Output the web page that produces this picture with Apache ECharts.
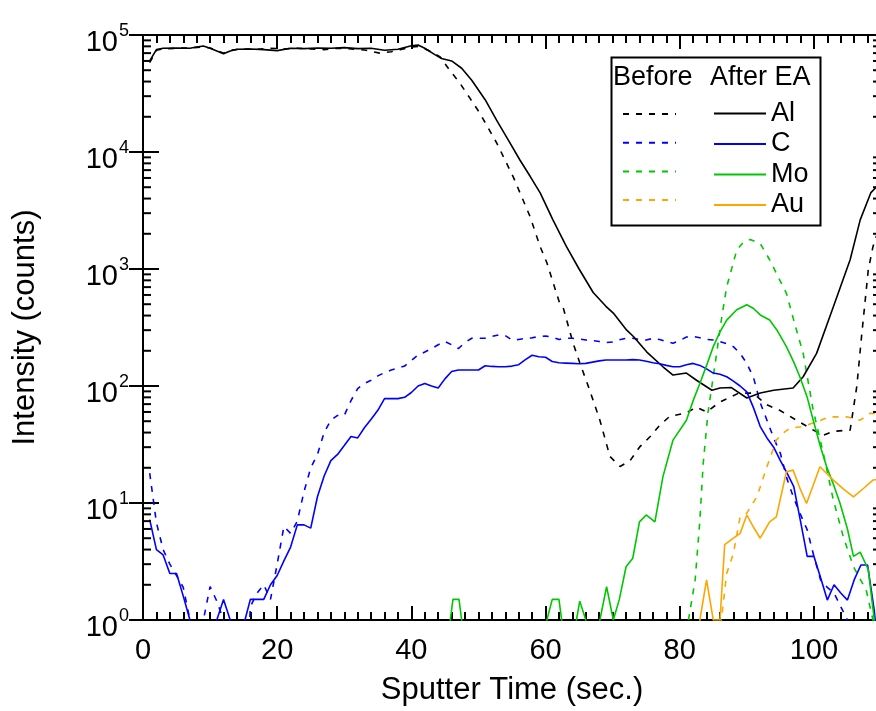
<!DOCTYPE html>
<html>
<head>
<meta charset="utf-8">
<script src="https://cdn.jsdelivr.net/npm/echarts@6/dist/echarts.min.js"></script>
<style>html,body{margin:0;padding:0;background:#fff}#c{width:876px;height:711px}</style>
</head>
<body>
<div id="c"></div>
<script>
// ---- data: [sputter time (s), intensity (counts)] ; 0.3 = zero counts ----
const alAfter = [[1,60000],[2,75000],[3,77000],[5,77500],[7,77000],[8,79000],[9,80500],[10,77000],[11,73000],[12,69000],[13,73000],[14,75500],[16,76000],[18,75000],[20,73500],[22,77000],[24,76500],[26,77500],[28,77000],[30,78000],[32,76500],[34,77000],[36,74000],[38,75500],[40,81000],[41,82000],[42,77000],[43.5,68000],[44.5,63000],[46,60000],[47.5,52000],[49,41000],[51,28000],[52.7,18700],[54.5,12500],[56.2,8500],[57.7,6200],[59.2,4470],[61.1,2630],[63.1,1560],[65,1000],[67.1,630],[69,480],[70.1,420],[72.1,300],[73.1,265],[75.1,195],[77.5,146],[79,124],[81,129],[82.5,112],[84.8,92],[86,96],[87.7,97],[90,79],[92,87],[94,92],[96.9,96],[98.4,120],[100.4,190],[102.9,475],[105.4,1200],[106.9,2630],[108.5,4500],[110,5500]];
const alBefore = [[1,58000],[2,74000],[3,76000],[5,77000],[7,77500],[9,79000],[10,77500],[11,74000],[12,70000],[13,74000],[15,76000],[17,75500],[19,77000],[21,76000],[23,77000],[25,76000],[27,75000],[29,77000],[31,76000],[33,74500],[35.3,70000],[37,72000],[38.3,75000],[40,79000],[41,80000],[42.5,74000],[44.3,65000],[45.7,50000],[47.2,39000],[48.7,29000],[50.2,21500],[52.7,12000],[55.2,6100],[57.7,2800],[59.2,1550],[60.2,1130],[62.1,510],[62.6,475],[64.1,233],[65.1,158],[66.5,95],[68.1,51],[69.6,25],[71.1,20.5],[72.6,23],[74,30],[75.6,37],[77,46],[78.5,55],[81,59],[82.5,66],[84,60],[86,73],[88.8,87],[90.9,87],[93,69],[94.9,62],[97.4,51],[99.9,42],[101.4,38],[102.9,41],[105.4,42],[106.4,100],[107.1,265],[108.1,980],[108.8,1550],[110,2500]];
const cAfter = [[1,7.2],[2,4.0],[3,3.6],[4,2.5],[5,2.5],[6,1.6],[7,1],[8,0.3],[10,0.3],[11,1],[12,1.5],[13,1],[14,0.3],[14.6,0.3],[15.2,1],[16,1.5],[17,1.5],[18,1.5],[19,2],[20,2.4],[21,3.2],[22,4.2],[23,6.5],[24,6.5],[25,6.1],[26,11.3],[27,17],[28,23],[29,26],[30,31],[31,37],[32,36],[33,44],[34,52],[35,62],[36,78],[37,78],[38,78],[39,80],[40,88],[41,100],[42,105],[43,100],[44,96],[45,115],[46,133],[47,137],[48,137],[49,137],[50,137],[51,149],[52,147],[53,146],[54,146],[55,148],[56,152],[57,168],[58,183],[59,178],[60,176],[61,162],[62,158],[63,157],[64,156],[65,155],[66,156],[67,160],[68,164],[69,167],[70,167],[71,167],[72,167],[73,168],[74,167],[75,163],[76,158],[77,155],[78,150],[79,146],[80,146],[81,152],[82,156],[83,150],[84,140],[85,129],[86,126],[87,120],[88,110],[89,100],[90,89],[91,65],[92,45],[93,36],[94,30],[95,23],[96,18],[97,13.8],[98,7],[99,3.5],[100,3.5],[101,2.3],[102,1.48],[103,2.0],[104,1.7],[105,1.48],[106,2.2],[107,2.95],[108,2.95],[109,1.2],[110,0.3]];
const cBefore = [[1,18],[2,6.8],[3,4],[4,3.0],[5,2.4],[6,1.9],[7,1],[8,0.3],[8.7,0.3],[9,1],[10,1.93],[11,1.45],[12,1],[13,0.3],[15.5,0.3],[16,1.3],[17,1.7],[18,2],[19,1.5],[20,3.0],[21,6.3],[22,5.5],[23,7],[24,12.5],[25,20],[26,26],[27,40],[28,51],[29,56],[30,56],[31,75],[32,95],[33,105],[34,112],[35,122],[36,130],[37,137],[38,142],[39,148],[40,165],[41,184],[42,195],[43,209],[44,225],[45,240],[46,225],[47,209],[48,235],[49,256],[50,256],[51,256],[52,265],[53,273],[54,270],[55,247],[56,250],[57,256],[58,258],[59,265],[60,267],[61,262],[62,250],[63,256],[64,256],[65,252],[66,247],[67,245],[68,240],[69,235],[70,238],[71,248],[72,256],[73,256],[74,250],[75,247],[76,255],[77,250],[78,240],[79,232],[80,245],[81,262],[82,265],[83,258],[84,250],[85,247],[86,240],[87,230],[88,217],[89,190],[90,156],[91,118],[92,72],[93,51],[94,36],[95,26.6],[96,16],[97,11],[98,8],[99,5.9],[100,3.5],[101,2.2],[102,1.9],[103,1.7],[104,1.3],[105,1],[106,0.3],[110,0.3]];
const moAfter = [[1,0.3],[45,0.3],[45.8,1],[46.2,1.5],[47.1,1.5],[47.5,1],[48,0.3],[60,0.3],[60.2,1],[61,1.5],[62,1.5],[62.4,1],[63,0.3],[64.3,0.3],[64.6,1],[65.1,1.45],[66,1],[66.5,0.3],[67.8,0.3],[68.1,1],[69.1,1.93],[70.1,1],[71,1.5],[72,2.85],[73,3.37],[74,6.9],[75,7.9],[76.3,6.9],[77.5,16.8],[79,34.5],[81,51],[82,75],[83,105],[84,150],[85,217],[86,290],[87,366],[88.5,448],[90,495],[91,460],[92,405],[93.4,366],[94.5,300],[95.9,217],[97,160],[97.9,120],[99,80],[99.9,51],[101,30],[101.9,20.4],[103,14],[103.9,9.9],[105,6],[105.9,3.5],[106.9,3.8],[108.1,2.7],[109,1],[109.5,0.3]];
const moBefore = [[1,0.3],[81,0.3],[81.3,1],[82.3,2.2],[83,7.1],[83.5,21.8],[84.2,58.5],[85.5,190],[86.3,400],[87,705],[88.5,1450],[89.5,1700],[90.5,1790],[92,1650],[93.4,1200],[94.7,850],[95.9,620],[97.2,330],[98.4,190],[99.9,62],[101.4,26.6],[102.9,10.6],[104.4,5.1],[105.9,2.85],[107.8,1.8],[108.8,1],[109.5,0.3]];
const auAfter = [[1,0.3],[82.5,0.3],[83,1],[84,2.2],[85,1],[86,1],[86.7,4.4],[88,5],[89,5.5],[90,7.9],[91,6.2],[92,5],[93.4,6.9],[94.4,7.6],[95.9,18.5],[96.9,19.1],[98,13],[98.9,9.9],[100.9,20.4],[102.9,15.7],[104.5,13],[105.9,11.3],[107.5,13.5],[108.8,15.7],[110,16]];
const auBefore = [[1,0.3],[85.7,0.3],[86.2,1],[87,2.5],[88,3.7],[89,7.6],[90,8.2],[91.5,11.3],[93,20.4],[94.4,34.5],[95.5,40],[96.4,43.5],[98.4,45],[100.4,49.5],[102.4,54.5],[104.9,54.5],[106.9,51],[108.4,58.5],[110,58]];

const elements = ['Al', 'C', 'Mo', 'Au'];
const colors = ['#000000', '#0000ff', '#00c800', '#ffa500'];
const xTicksMajor = 20, xTicksMinor = 2, xMin = 0, xMax = 110;
const yMin = 1, yMax = 100000;
const yMinorTicks = [2,3,4,5,6,7,8,9,20,30,40,50,60,70,80,90,200,300,400,500,600,700,800,900,2000,3000,4000,5000,6000,7000,8000,9000,20000,30000,40000,50000,60000,70000,80000,90000];

const FONT = 'Liberation Sans, Arial, Helvetica, sans-serif';
const afterData = [alAfter, cAfter, moAfter, auAfter];
const beforeData = [alBefore, cBefore, moBefore, auBefore];
const beforeNames = elements.map(e => e + ' before');

const series = [];
elements.forEach((e, i) => {
  series.push({
    name: beforeNames[i], type: 'line', data: beforeData[i], symbol: 'none', z: 3,
    lineStyle: { color: colors[i], width: 1.6, type: [6, 7] }, itemStyle: { color: colors[i] }
  });
});
elements.forEach((e, i) => {
  series.push({
    name: e, type: 'line', data: afterData[i], symbol: 'none', z: 4,
    lineStyle: { color: colors[i], width: 1.6, type: 'solid' }, itemStyle: { color: colors[i] }
  });
});
series.push({
  type: 'custom', silent: true, z: 10, clip: false,
  data: yMinorTicks.map(v => [xMin, v]),
  encode: { x: 0, y: 1 },
  renderItem: (params, api) => {
    const v = api.value(1);
    const l = api.coord([xMin, v]);
    const r = api.coord([xMax, v]);
    return { type: 'group', children: [
      { type: 'line', shape: { x1: l[0], y1: l[1], x2: l[0] + 8, y2: l[1] }, style: { stroke: '#000', lineWidth: 2 } },
      { type: 'line', shape: { x1: r[0] - 8, y1: r[1], x2: r[0], y2: r[1] }, style: { stroke: '#000', lineWidth: 2 } }
    ]};
  }
});

const axLine = { show: true, lineStyle: { color: '#000', width: 2 } };
function xAx(pos, interval, len, labels) {
  return {
    type: 'value', position: pos, min: xMin, max: xMax, interval: interval,
    axisLine: axLine, splitLine: { show: false },
    axisTick: { show: true, inside: true, length: len, lineStyle: { color: '#000', width: 2 } },
    axisLabel: labels ? {
      show: true, fontSize: 29, fontFamily: FONT, color: '#000', margin: 16,
      formatter: v => (v % 20 === 0 ? String(v) : '')
    } : { show: false }
  };
}
const xAxes = [xAx('bottom', xTicksMajor, 14, true), xAx('bottom', xTicksMinor, 8, false), xAx('top', xTicksMajor, 14, false), xAx('top', xTicksMinor, 8, false)];
Object.assign(xAxes[0], {
  name: 'Sputter Time (sec.)', nameLocation: 'middle', nameGap: 55,
  nameTextStyle: { fontSize: 31, fontFamily: FONT, color: '#000' }
});

const yAxes = [
  {
    type: 'log', logBase: 10, min: yMin, max: yMax, splitNumber: 5, position: 'left',
    axisLine: axLine, splitLine: { show: false },
    axisTick: { show: true, inside: true, length: 16, lineStyle: { color: '#000', width: 2 } },
    axisLabel: {
      show: true, margin: 14, color: '#000',
      formatter: v => '{b|10}{s|' + Math.round(Math.log10(v)) + '}{h| }',
      rich: {
        b: { fontSize: 29, fontFamily: FONT, color: '#000', lineHeight: 29, verticalAlign: 'bottom' },
        s: { fontSize: 18, fontFamily: FONT, color: '#000', lineHeight: 18, verticalAlign: 'top', padding: [10, 0, 0, 1] },
        h: { fontSize: 1, lineHeight: 45, verticalAlign: 'middle', width: 0 }
      }
    },
    name: 'Intensity (counts)', nameLocation: 'middle', nameGap: 102,
    nameTextStyle: { fontSize: 31, fontFamily: FONT, color: '#000' }
  },
  {
    type: 'log', logBase: 10, min: yMin, max: yMax, splitNumber: 5, position: 'right',
    axisLine: axLine, splitLine: { show: false },
    axisTick: { show: true, inside: true, length: 14, lineStyle: { color: '#000', width: 2 } },
    axisLabel: { show: false }
  }
];

const legendText = { fontSize: 27, fontFamily: FONT, color: '#000' };
const option = {
  animation: false,
  backgroundColor: '#fff',
  grid: { left: 143, right: -5, top: 35, bottom: 91, containLabel: false, outerBoundsMode: 'none' },
  xAxis: xAxes,
  yAxis: yAxes,
  legend: [
    {
      data: beforeNames, orient: 'vertical', left: 617, top: 95, itemWidth: 53, itemHeight: 28, itemGap: 3.5,
      formatter: () => '', textStyle: legendText, selectedMode: false,
      itemStyle: { opacity: 0 }, lineStyle: { width: 2 }
    },
    {
      data: elements, orient: 'vertical', left: 708, top: 95, itemWidth: 52, itemHeight: 28, itemGap: 3.5,
      textStyle: legendText, selectedMode: false,
      itemStyle: { opacity: 0 }, lineStyle: { width: 2 }
    }
  ],
  graphic: [
    { type: 'rect', left: 609, top: 55, shape: { width: 209, height: 168 }, style: { fill: 'none', stroke: '#000', lineWidth: 2 }, z: 20 },
    { type: 'text', left: 613, top: 64, style: { text: 'Before', fontSize: 27, fontFamily: FONT, fill: '#000' }, z: 20 },
    { type: 'text', left: 710, top: 64, style: { text: 'After EA', fontSize: 27, fontFamily: FONT, fill: '#000' }, z: 20 }
  ],
  series: series
};
const chart = echarts.init(document.getElementById('c'), null, { renderer: 'canvas' });
chart.setOption(option);
</script>
</body>
</html>
